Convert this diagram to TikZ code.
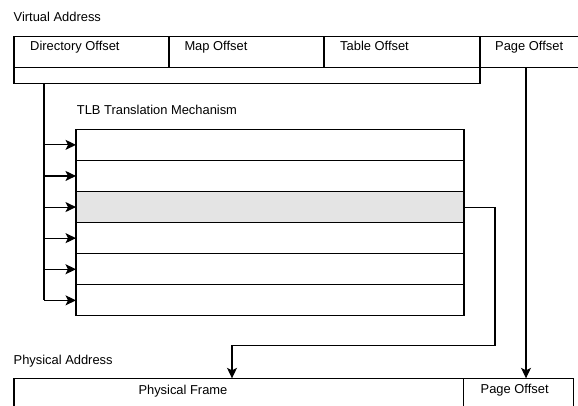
\documentclass[tikz,border=0pt]{standalone}
\usepackage{fontspec}
\setmainfont{Liberation Sans}
\usetikzlibrary{arrows.meta}
\definecolor{rowhi}{HTML}{E4E4E4}
\begin{document}
\begin{tikzpicture}[x=1pt,y=-1pt,
  cell/.style={draw, line width=1.1pt, anchor=north west, inner sep=0pt, outer sep=0pt},
  lbl/.style={anchor=base west, inner sep=0pt, font=\fontsize{12.9}{15}\selectfont},
  wire/.style={line width=1.1pt},
  tip/.style={-{Stealth[length=10.5pt,width=10pt,inset=2.5pt]}}]
\useasboundingbox (0,0) rectangle (578,405);

% virtual address fields
\node[cell, minimum width=155pt, minimum height=30.8pt] (dir) at (14,36.7) {};
\node[cell, minimum width=155pt, minimum height=30.8pt] (map) at (169,36.7) {};
\node[cell, minimum width=156pt, minimum height=30.8pt] (tab) at (324,36.7) {};
\node[cell, minimum width=120pt, minimum height=30.8pt] (pg) at (480,36.7) {};
\node[cell, minimum width=466pt, minimum height=15.6pt] (strip) at (14,67.5) {};

\node[lbl] (vatitle) at (13.5,21.8) {Virtual Address};
\node[lbl] (tdir) at (30,50.9) {Directory Offset};
\node[lbl] (tmap) at (184.3,50.9) {Map Offset};
\node[lbl] (ttab) at (340,50.9) {Table Offset};
\node[lbl] (tpg) at (495,50.9) {Page Offset};

% TLB entries
\node[lbl] (tlbtitle) at (76.7,114.2) {TLB Translation Mechanism};
\foreach \i in {1,...,6}{
  \node[cell, minimum width=388pt, minimum height=31.1pt] (row\i) at (76,{129.3+31.1*(\i-1)}) {};
}
\node[cell, fill=rowhi, minimum width=388pt, minimum height=31.1pt] (hit) at (76,191.5) {};

% physical address fields
\node[lbl] (patitle) at (13.5,364.2) {Physical Address};
\node[cell, minimum width=449.3pt, minimum height=40pt] (frame) at (14,378.3) {};
\node[cell, minimum width=110pt, minimum height=40pt] (ppg) at (463.3,378.3) {};
\node[lbl] (tframe) at (138.3,394.2) {Physical Frame};
\node[lbl] (tppg) at (480.5,393.3) {Page Offset};

% index bus into the TLB
\coordinate (bus) at (44,0);
\draw[wire] (bus |- strip.south) -- (bus |- row6.west);
\foreach \i in {1,...,6}{
  \draw[wire,tip] (bus |- row\i.west) -- (row\i.west);
}

% frame number out of the matching entry
\coordinate (turn) at (495,345.7);
\coordinate (drop) at (232,345.7);
\draw[wire,tip] (hit.east) -| (turn) -- (drop) -- (drop |- frame.north);

% page offset passes straight through
\coordinate (pgx) at (526,0);
\draw[wire,tip] (pgx |- strip.north) -- (pgx |- ppg.north);
\end{tikzpicture}
\end{document}
